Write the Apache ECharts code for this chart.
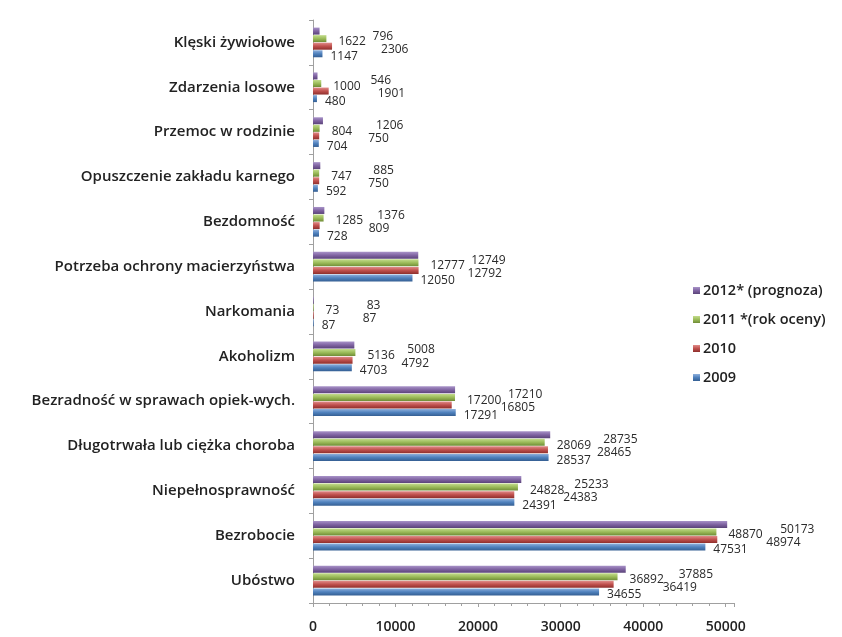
<!DOCTYPE html>
<html><head><meta charset="utf-8">
<script src="https://cdn.jsdelivr.net/npm/echarts@6/dist/echarts.min.js"></script>
<style>html,body{margin:0;padding:0;background:#fff}#c{width:842px;height:637px}</style>
</head><body><div id="c"></div>
<script>
const categories = ['Ubóstwo','Bezrobocie','Niepełnosprawność','Długotrwała lub ciężka choroba','Bezradność w sprawach opiek-wych.','Akoholizm','Narkomania','Potrzeba ochrony macierzyństwa','Bezdomność','Opuszczenie zakładu karnego','Przemoc w rodzinie','Zdarzenia losowe','Klęski żywiołowe'];
const seriesNames = ['2012* (prognoza)','2011 *(rok oceny)','2010','2009'];
const v2012 = [37885,50173,25233,28735,17210,5008,83,12749,1376,885,1206,546,796];
const v2011 = [36892,48870,24828,28069,17200,5136,73,12777,1285,747,804,1000,1622];
const v2010 = [36419,48974,24383,28465,16805,4792,87,12792,809,750,750,1901,2306];
const v2009 = [34655,47531,24391,28537,17291,4703,87,12050,728,592,704,480,1147];
const xTicks = {min:0, max:51000, interval:10000};

const colors = [
  ['#a893c8','#8064a2','#5a4379'],
  ['#c3dc8c','#9bbb59','#6f8c36'],
  ['#e08c89','#c0504d','#8e2f2c'],
  ['#8fb0dc','#4f81bd','#355f93']
];
const labelOffsets = [[53,5],[12,3],[49,3],[8,3]];
const allData = [v2012,v2011,v2010,v2009];
const font = 'Open Sans';

const chart = echarts.init(document.getElementById('c'));
chart.setOption({
  animation:false,
  textStyle:{fontFamily:font},
  grid:{left:313,top:20,width:421,height:583,containLabel:false},
  legend:{
    orient:'vertical', left:688, top:278, itemGap:14, itemWidth:7, itemHeight:7,
    icon:'rect',
    data:seriesNames,
    textStyle:{fontFamily:font,fontSize:14.5,fontWeight:600,color:'#222',padding:[0,0,0,-2]}
  },
  xAxis:{
    type:'value', min:xTicks.min, max:xTicks.max, interval:xTicks.interval,
    splitLine:{show:false},
    axisLine:{show:true,lineStyle:{color:'#a0a0a0'}},
    axisTick:{show:true,length:4,lineStyle:{color:'#a0a0a0'}},
    minorTick:{show:true,splitNumber:5,length:3,lineStyle:{color:'#a0a0a0'}},
    axisLabel:{showMaxLabel:false,margin:17,fontFamily:font,fontSize:14,fontWeight:600,color:'#222',
      formatter:v=>String(v)}
  },
  yAxis:{
    type:'category', data:categories,
    axisLine:{show:true,lineStyle:{color:'#a0a0a0'}},
    axisTick:{show:true,length:4,lineStyle:{color:'#a0a0a0'}},
    axisLabel:{margin:18,fontFamily:font,fontSize:15,fontWeight:600,color:'#222'}
  },
  series: seriesNames.map((n,i)=>({
    name:n, type:'bar', data:allData[i], barWidth:7, barGap:'8%',
    itemStyle:{color:new echarts.graphic.LinearGradient(0,0,0,1,[
      {offset:0,color:colors[i][0]},{offset:0.5,color:colors[i][1]},{offset:1,color:colors[i][2]}])},
    label:{show:true,position:'right',distance:0,offset:labelOffsets[i],
      fontFamily:font,fontSize:12,color:'#2a2a2a'}
  }))
});
</script></body></html>
